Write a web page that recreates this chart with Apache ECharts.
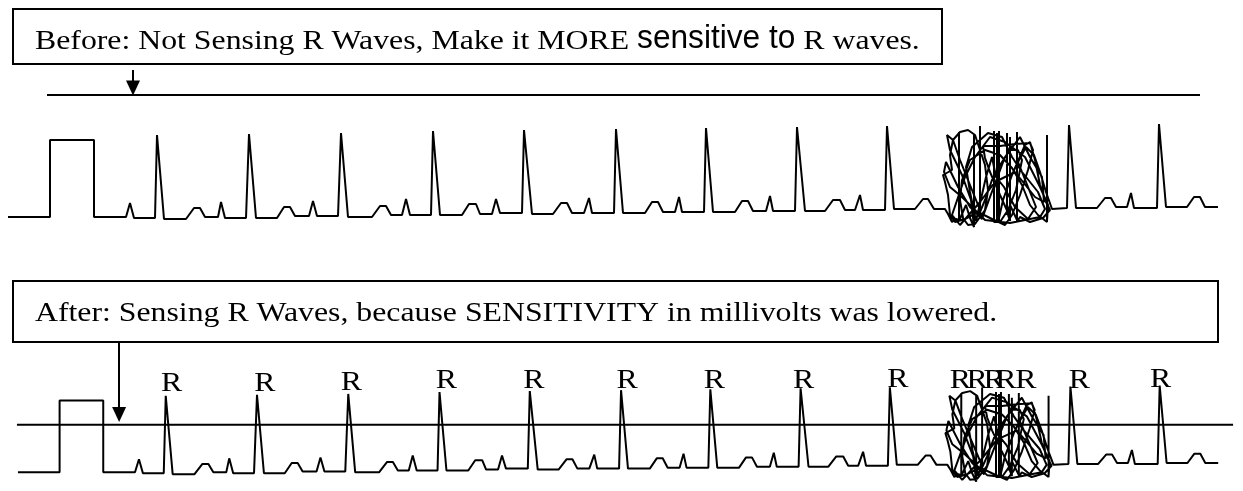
<!DOCTYPE html>
<html>
<head>
<meta charset="utf-8">
<script src="https://cdn.jsdelivr.net/npm/echarts@6/dist/echarts.min.js"></script>
<style>
html,body{margin:0;padding:0;background:#fff;}
#chart{width:1243px;height:491px;}
</style>
</head>
<body>
<div id="chart"></div>
<script>
// ---- Data (x = time units, y = amplitude units above baseline) ----
// Paced rhythm: pacing spike, then beats (hump, small spike, tall R)
const traceStart = [
  [8,0],[50,0],[50,77],[94,77],[94,0],[126,0],[130,14],[134,-1],[155,-1],[157,82],[164,-2],
  [186,-2],[194,9],[200,9],[205,0],[218,0],[221,15],[225,-1],[246,-1],[249,83],[256,-1],
  [277,-1],[284,10],[290,10],[295,1],[309,1],[313,16],[317,1],[338,1],[341,84],[348,0],
  [372,0],[380,11],[386,11],[391,2],[402,2],[406,18],[410,2],[431,2],[433,86],[440,2],
  [462,2],[469,13],[476,13],[480,3],[492,3],[496,18],[500,4],[522,4],[524,87],[532,3],
  [553,3],[561,14],[567,14],[572,4],[584,4],[589,19],[592,4],[614,4],[616,88],[623,4],
  [645,4],[652,15],[658,15],[663,5],[675,5],[679,20],[682,5],[704,5],[706,89],[713,5],
  [735,5],[742,16],[748,16],[753,6],[766,6],[770,21],[773,6],[795,6],[797,90],[805,6],
  [825,6],[833,17],[840,17],[845,7],[855,7],[860,22],[863,7],[885,7],[887,91],[894,8],
  [915,8],[923,18],[928,18],[934,8],[945,8]
];
// Noise / artifact burst (scribble)
const noiseBurst = [
  [948,3],[952,-5],[956,-2],[959,-3],[959,85],[959,-4],
  [962,3],[966,12],[970,-1],[974,-10],[974,82],[974,-9],
  [971,17],[962,42],[950,67],[947,82],[953,77],[960,57],[972,27],[978,12],
  [980,7],[980,91],[980,5],
  [985,17],[992,37],[1000,52],[1010,67],[1018,67],[1022,57],
  [1016,27],[1008,7],[1000,-5],[994,-5],[994,86],[994,-3],
  [997,-4],[997,84],[997,-2],
  [999,-5],[999,86],[999,-1],
  [1003,17],[1012,42],[1025,72],[1030,75],[1035,57],[1040,32],[1045,17],[1050,7],[1043,-1],[1030,-5],[1020,0],
  [1017,-5],[1017,85],[1017,-3],
  [1010,12],[1007,2],[1007,84],[1007,5],
  [1010,-4],[1010,80],[1010,0],
  [1000,22],[990,45],[985,59],[983,71],[1000,71],[1015,73],[1030,74],[1033,67],
  [1028,47],[1020,22],[1012,2],[1005,-8],
  [990,-1],[978,5],[965,-2],[955,-5],[950,2],[948,22],[945,35],[943,42],[952,47],[950,62],[953,77],[960,85],[968,87],[975,82],[980,67],[985,52],
  [988,27],[985,7],[975,-7],[968,-8],[963,-1],[960,17],[962,37],[970,57],
  [985,67],[1000,62],[1012,49],[1022,32],[1030,12],[1038,2],[1047,-5],[1047,82],[1047,-4],
  [1048,12],[1040,30],[1025,60],[1005,75],[990,80],[975,60],[965,40],[952,2],
  [960,-8],[980,15],[995,35],[1015,45],[1035,20],[1044,15],[1042,40],[1030,60],[1020,80],
  [1005,60],[990,20],[982,-2],[970,10],[958,30],[946,55],[944,45],[950,30],[962,20],
  [985,-3],[1010,-6],[1040,0],[1045,8],[1038,25],[1022,45],[1012,60],[1002,80],[988,84],
  [972,70],[966,50],[970,25],[976,-4],[986,40],[992,60],[996,40],[1004,30],[1015,10],
  [1028,-2],[1036,10],[1026,35],[1018,55],[1026,70],[1034,62],[1040,45],[1046,25],
  [1052,8]
];
const traceEnd = [
  [1067,9],[1069,92],[1076,9],[1097,9],[1105,19],[1111,19],[1116,10],[1127,10],[1131,24],[1134,9],
  [1157,9],[1159,93],[1166,10],[1187,10],[1194,20],[1200,20],[1205,10],[1218,10]
];
// Sensitivity threshold lines (amplitude) and their extents
const thresholdBefore = 122;
const thresholdBeforeX = [47, 1200];
const thresholdAfter = 51;
const thresholdAfterX = [7, 1233];
// Arrows pointing to the threshold: [x, fromAmp, toAmp]
const arrowBefore = [133, 147, 122];
const arrowAfter = [110, 145, 55];
// Sensed R-wave markers (after)
const rLabelX = [163, 257, 344, 440, 528, 622, 710, 800, 895, 958, 975, 992, 1004, 1024, 1078, 1160];
const rLabelY = [86, 86, 88, 90, 90, 90, 90, 90, 91, 90, 90, 90, 90, 90, 90, 91];
const titleBefore = ['Before: Not Sensing R Waves, Make it MORE ', 'sensitive to', ' R waves.'];
const titleAfter = 'After: Sensing R Waves, because SENSITIVITY in millivolts was lowered.';

// ---- Chart ----
const trace = traceStart.concat(noiseBurst, traceEnd);
const chart = echarts.init(document.getElementById('chart'), null, {renderer: 'canvas'});
const SERIF = '"Liberation Serif", "Times New Roman", serif';
const SANS = '"Liberation Sans", Arial, sans-serif';
const STRETCH = 1.135;   // whole drawing is slightly stretched horizontally
const NARROW = 0.82;     // narrow-sans compression
const lineBase = {type: 'line', symbol: 'none', silent: true, animation: false, clip: false,
  lineStyle: {color: '#000', width: 2}};
function arrowMark(a) {
  return {symbol: ['none', 'triangle'], symbolSize: [14, 15], silent: true, animation: false,
    label: {show: false}, lineStyle: {color: '#000', width: 2, type: 'solid'},
    data: [[{coord: [a[0], a[1]]}, {coord: [a[0], a[2] + 7]}]]};
}
// text layout for the mixed-font caption
const mctx = document.createElement('canvas').getContext('2d');
function textW(t, font) { mctx.font = font; return mctx.measureText(t).width; }
const fSerif = '28px ' + SERIF, fSans = '34px ' + SANS;
const capX0 = 35;
const capX1 = capX0 + textW(titleBefore[0], fSerif) * STRETCH;
const capX2 = capX1 + textW(titleBefore[1], fSans) * STRETCH * NARROW;
const capEnd = capX2 + textW(titleBefore[2], fSerif) * STRETCH;
const box1Right = Math.round(capEnd + 22);

function capText(t, x, font, sx, y) {
  return {type: 'text', x: x, y: y, scaleX: sx, z: 11,
    style: {text: t, font: font, fill: '#000', verticalAlign: 'bottom'}};
}
const option = {
  backgroundColor: '#fff',
  animation: false,
  grid: [
    {left: 0, top: 57, width: 1243, height: 180},
    {left: 10, top: 323, width: 1243, height: 180}
  ],
  xAxis: [
    {type: 'value', gridIndex: 0, min: 0, max: 1243, show: false},
    {type: 'value', gridIndex: 1, min: 0, max: 1243, show: false}
  ],
  yAxis: [
    {type: 'value', gridIndex: 0, min: -20, max: 160, show: false},
    {type: 'value', gridIndex: 1, min: -20, max: 160, show: false}
  ],
  series: [
    Object.assign({}, lineBase, {name: 'Before', xAxisIndex: 0, yAxisIndex: 0, data: trace}),
    Object.assign({}, lineBase, {name: 'Before threshold', xAxisIndex: 0, yAxisIndex: 0,
      data: thresholdBeforeX.map(x => [x, thresholdBefore]), markLine: arrowMark(arrowBefore)}),
    Object.assign({}, lineBase, {name: 'After', xAxisIndex: 1, yAxisIndex: 1, data: trace}),
    Object.assign({}, lineBase, {name: 'After threshold', xAxisIndex: 1, yAxisIndex: 1,
      data: thresholdAfterX.map(x => [x, thresholdAfter]), markLine: arrowMark(arrowAfter)}),
    {
      type: 'custom', name: 'R', xAxisIndex: 1, yAxisIndex: 1, silent: true, animation: false, clip: false,
      data: rLabelX.map((x, i) => [x, rLabelY[i]]),
      renderItem: function (params, api) {
        const p = api.coord([api.value(0), api.value(1)]);
        return {type: 'text', x: p[0], y: p[1] + 6, scaleX: STRETCH,
          style: {text: 'R', font: fSerif, fill: '#000', align: 'center', verticalAlign: 'bottom'}};
      }
    }
  ],
  graphic: [
    {type: 'rect', shape: {x: 13, y: 9, width: box1Right - 13, height: 55}, style: {fill: '#fff', stroke: '#000', lineWidth: 2}, z: 10},
    capText(titleBefore[0], capX0, fSerif, STRETCH, 56),
    capText(titleBefore[1], capX1, fSans, STRETCH * NARROW, 56),
    capText(titleBefore[2], capX2, fSerif, STRETCH, 56),
    {type: 'rect', shape: {x: 13, y: 281, width: 1205, height: 61}, style: {fill: '#fff', stroke: '#000', lineWidth: 2}, z: 10},
    capText(titleAfter, 35, fSerif, STRETCH, 328)
  ]
};
chart.setOption(option);
</script>
</body>
</html>
